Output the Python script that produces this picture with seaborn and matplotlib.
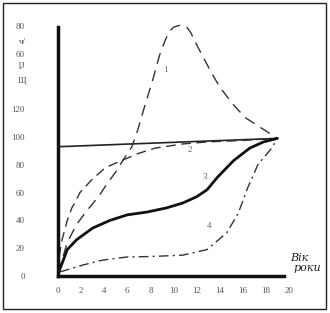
import matplotlib
matplotlib.use("Agg")
import matplotlib.pyplot as plt
import seaborn as sns
from matplotlib.patches import Rectangle

# ---- data ----
c1_x = [0, 0.35, 0.8, 1.6, 2.5, 3.5, 4.3, 5.1, 5.6, 6.4, 6.9, 7.5, 8.2, 8.8, 9.3, 9.6, 10.0, 10.6, 11.2, 11.5, 11.9, 12.6, 13.3, 14.0, 15.1, 16.2, 17.5, 19.0]
c1_y = [2, 11.5, 24, 37, 47, 57, 67, 76, 83, 93, 105, 122, 141, 159, 170, 175.5, 179, 180.5, 178.5, 175, 168, 157, 146, 136, 124, 114, 107, 99]

c2_x = [0, 0.1, 0.35, 0.8, 1.2, 1.6, 1.9, 2.9, 4.1, 5.5, 6.9, 8.4, 10.8, 13.0, 16.0, 19.0]
c2_y = [3, 14, 26, 40, 49, 55, 60, 69, 78, 83, 88, 92, 95, 96.5, 97.5, 99]

c3_x = [0, 0.35, 0.8, 1.6, 3.0, 4.5, 6.0, 7.7, 9.4, 10.8, 12.0, 12.9, 13.8, 15.2, 16.6, 17.8, 19.0]
c3_y = [1.5, 9, 19, 26, 34.5, 40, 44, 46, 49, 52.5, 57, 62, 71, 83, 92, 96.5, 99]

c4_x = [0.17, 0.6, 2.2, 3.9, 6.0, 8.0, 10.8, 12.9, 14.6, 15.6, 16.4, 17.3, 18.5, 19.0]
c4_y = [3, 4, 8, 11.5, 13.7, 14, 15, 19, 31, 45, 63, 80, 92, 99]

hline_x = [0, 19]
hline_y = [93, 99]

x_ticks = [0, 2, 4, 6, 8, 10, 12, 14, 16, 18, 20]
x_tick_labels = ["0", "2", "4", "6", "8", "10", "12", "14", "16", "18", "20"]
y_ticks = [0, 20, 40, 60, 80, 100, 120, 160, 180]
y_tick_labels = ["0", "20", "40", "60", "80", "100", "120", "60", "80"]

curve_labels = ["1", "2", "3", "4"]
curve_label_pos = [(9.3, 148), (11.4, 91), (12.7, 71), (13.1, 36)]

# ---- figure ----
sns.set_style("white")
plt.rcParams['font.family'] = ['Liberation Serif', 'DejaVu Serif']

fig = plt.figure(figsize=(3.3, 3.13), dpi=100)
ax = fig.add_axes([58/330, 37/313, 231/330, 183*1.39/313])

sns.lineplot(x=hline_x, y=hline_y, ax=ax, color="#222222", lw=1.2, sort=False, estimator=None)
sns.lineplot(x=c1_x, y=c1_y, ax=ax, color="#333333", lw=1.0, sort=False, estimator=None,
             linestyle=(0, (8, 5)))
sns.lineplot(x=c2_x, y=c2_y, ax=ax, color="#333333", lw=1.0, sort=False, estimator=None,
             linestyle=(0, (7, 4)))
sns.lineplot(x=c3_x, y=c3_y, ax=ax, color="#111111", lw=2.0, sort=False, estimator=None)
sns.lineplot(x=c4_x, y=c4_y, ax=ax, color="#333333", lw=1.0, sort=False, estimator=None,
             linestyle=(0, (7, 3, 1.5, 3)))

for lab, (lx, ly) in zip(curve_labels, curve_label_pos):
    ax.text(lx, ly, lab, fontsize=6.5, color="#666666", ha="center", va="center")

ax.set_xlim(0, 20)
ax.set_ylim(0, 183)
ax.set_xticks(x_ticks)
ax.set_xticklabels(x_tick_labels)
ax.set_yticks(y_ticks)
ax.set_yticklabels(y_tick_labels)
ax.tick_params(axis="both", length=0, labelsize=6.5, labelcolor="#555555")
ax.tick_params(axis="x", pad=8)
ax.tick_params(axis="y", pad=24)

for s in ["top", "right"]:
    ax.spines[s].set_visible(False)
ax.spines["left"].set_linewidth(2.5)
ax.spines["bottom"].set_linewidth(2.5)
ax.spines["left"].set_color("#111111")
ax.spines["bottom"].set_color("#111111")
ax.spines["left"].set_bounds(0, 179)
ax.spines["bottom"].set_bounds(0, 19.6)
ax.set_xlabel("")
ax.set_ylabel("")
ax.patch.set_alpha(0)

# axis caption, handwritten style
ax.text(20.9, 13, "Вік", fontsize=8, style="italic", color="#222222",
        family=["DejaVu Serif"], ha="center", va="center", clip_on=False)
ax.text(21.6, 6, "роки", fontsize=8, style="italic", color="#222222",
        family=["DejaVu Serif"], ha="center", va="center", clip_on=False)

# stray marks at top-left of the scan
fig.text(22/330, 1 - 42/313, "ч/", fontsize=6.5, color="#444444", ha="center", va="center")
fig.text(22/330, 1 - 66/313, "[J", fontsize=6.5, color="#444444", ha="center", va="center")
fig.text(22/330, 1 - 81/313, "Щ", fontsize=6, color="#444444", ha="center", va="center")

# frame around picture
fig.patches.append(Rectangle((3/330, 4/313), 323/330, 306/313, transform=fig.transFigure,
                             fill=False, edgecolor="#222222", lw=1.0))

fig.savefig("out.png", dpi=100)
